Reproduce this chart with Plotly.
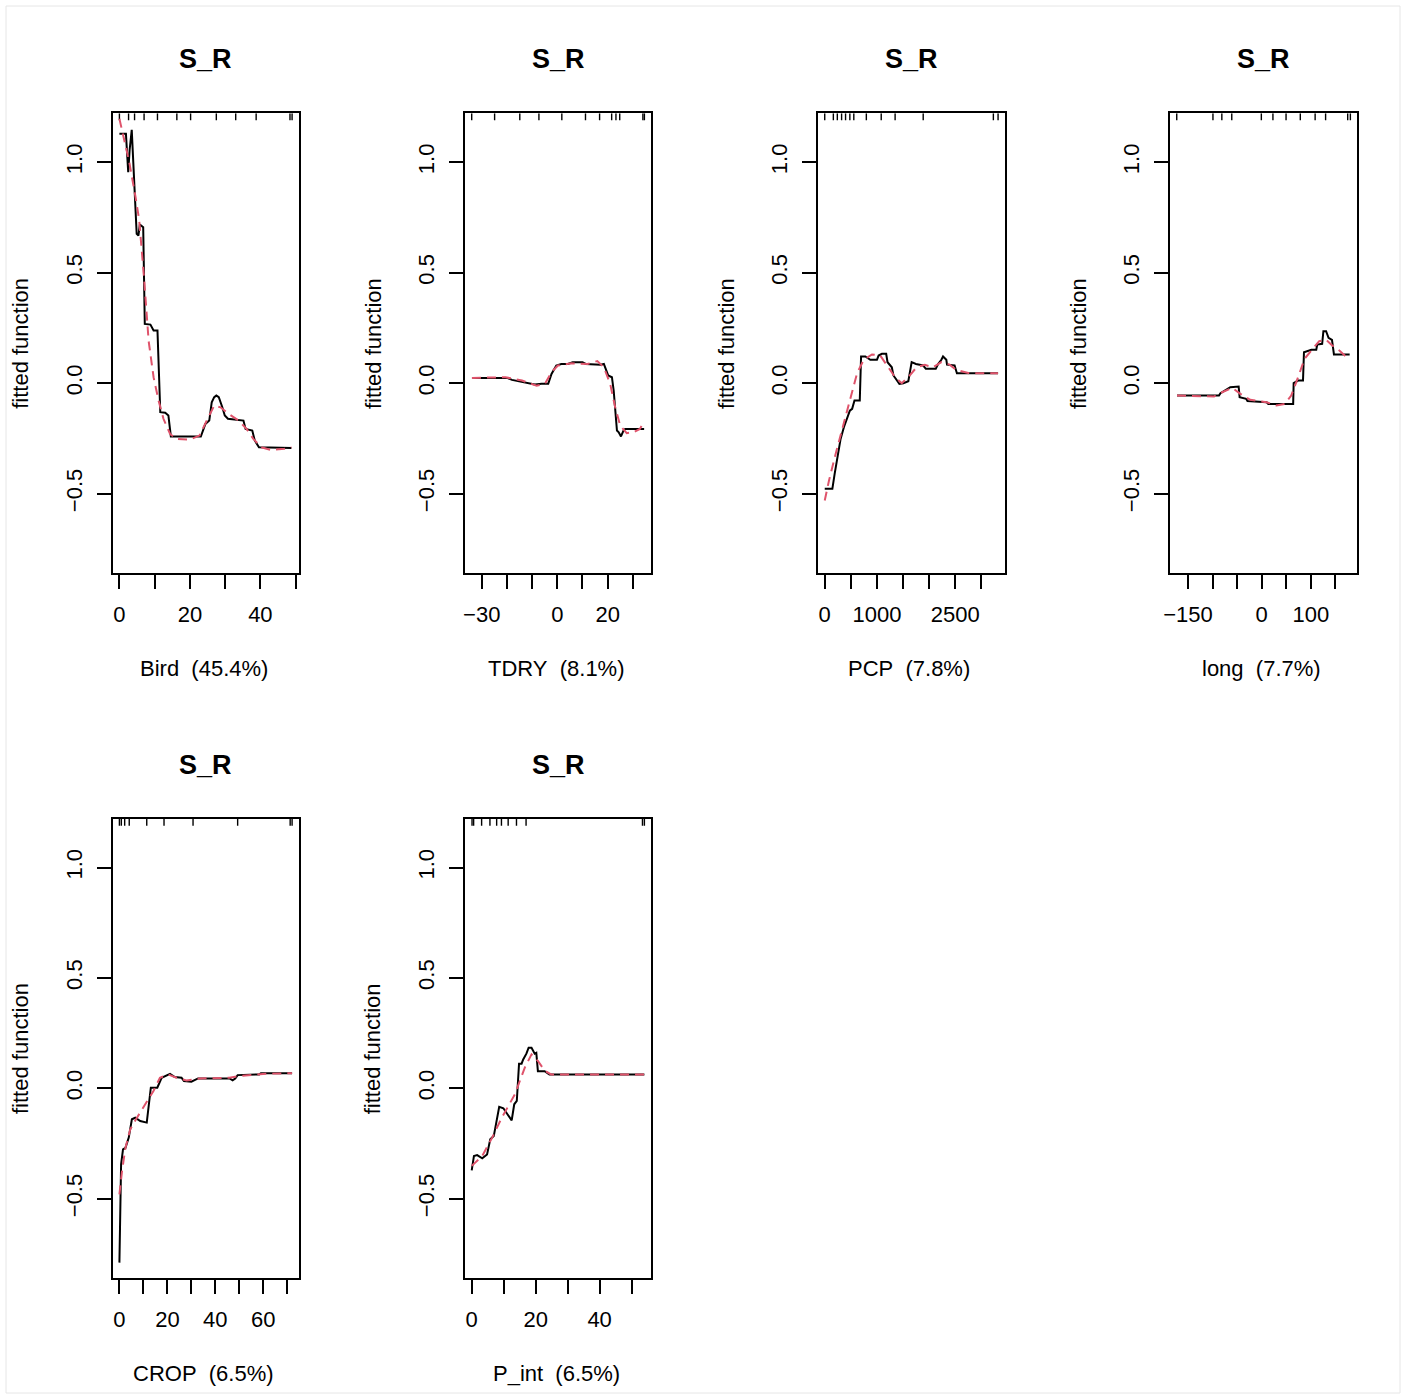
import plotly.graph_objects as go

W, H = 1404, 1397

# ---------------- data ----------------
bird_x = [0, 1.85, 2.5, 2.9, 3.5, 4.9, 5.4, 5.8, 6.75, 7.2, 8.8, 9.7, 10.8, 11.6, 13.0, 13.9, 14.6, 23.1, 24.4,
          25.5, 26.2, 26.9, 27.5, 28.2, 29.2, 29.9, 30.8, 35.2, 35.8, 37.7, 38.4, 39.6, 48.8]
bird_y = [1.128, 1.128, 0.955, 1.055, 1.146, 0.676, 0.668, 0.718, 0.706, 0.268, 0.265, 0.238, 0.238, -0.131,
          -0.134, -0.146, -0.241, -0.241, -0.184, -0.169, -0.086, -0.063, -0.056, -0.063, -0.109, -0.146,
          -0.161, -0.169, -0.207, -0.214, -0.259, -0.290, -0.293]
bird_fx = [0, 2.8, 4.6, 5.6, 6.9, 8.3, 9.7, 11.1, 12.5, 14.4, 16.2, 19.9, 22.7, 25.0, 26.9, 28.7, 31.0, 33.8,
           36.1, 38.0, 40.3, 43.0, 46.8, 48.8]
bird_fy = [1.196, 1.0, 0.84, 0.74, 0.495, 0.19, 0.027, -0.078, -0.161, -0.23, -0.252, -0.256, -0.237, -0.161,
           -0.101, -0.109, -0.139, -0.169, -0.207, -0.252, -0.29, -0.302, -0.297, -0.29]
bird_rug = [0, 2.6, 4.3, 7.0, 10.8, 16.3, 20.2, 27.5, 33.0, 38.8, 48.4, 49.0]

tdry_x = [-33.9, -19.9, -18.0, -14.0, -8.9, -6.25, -3.6, -2.3, -0.4, 1.6, 4.2, 6.1, 10.0, 11.3, 17.2, 18.5, 19.5,
          20.2, 21.7, 22.4, 23.7, 24.4, 25.3, 26.3, 27.0, 34.5]
tdry_y = [0.024, 0.024, 0.015, 0.0045, -0.006, -0.003, -0.003, 0.042, 0.080, 0.087, 0.087, 0.095, 0.095, 0.087,
          0.084, 0.087, 0.057, 0.035, 0.027, -0.033, -0.214, -0.222, -0.241, -0.214, -0.207, -0.207]
tdry_fx = [-33.9, -20.6, -14.0, -8.2, -4.9, -2.3, 0.26, 5.5, 12.0, 15.9, 18.5, 21.0, 23.0, 25.0, 27.6, 30.2,
           32.8, 34.4]
tdry_fy = [0.024, 0.027, 0.012, -0.011, -0.003, 0.05, 0.08, 0.09, 0.087, 0.1, 0.072, -0.003, -0.109, -0.192,
           -0.226, -0.222, -0.207, -0.176]
tdry_rug = [-34.0, -24.9, -14.9, -7.3, 1.8, 11.2, 16.8, 21.6, 23.3, 24.8, 34.0, 34.6]

pcp_x = [0, 146, 190, 240, 304, 367, 430, 481, 525, 570, 671, 696, 778, 873, 1000, 1032, 1095, 1177, 1203, 1285,
         1316, 1430, 1506, 1601, 1665, 1747, 1886, 1937, 2127, 2171, 2234, 2266, 2329, 2342, 2487, 2532, 3320]
pcp_y = [-0.478, -0.478, -0.41, -0.335, -0.252, -0.199, -0.154, -0.124, -0.116, -0.078, -0.078, 0.121, 0.121,
         0.106, 0.106, 0.125, 0.133, 0.133, 0.095, 0.072, 0.035, -0.003, 0.0, 0.009, 0.095, 0.087, 0.08, 0.065,
         0.065, 0.087, 0.106, 0.121, 0.106, 0.084, 0.08, 0.045, 0.045]
pcp_fx = [0, 82, 209, 335, 494, 620, 747, 905, 1063, 1222, 1348, 1475, 1601, 1759, 1918, 2076, 2234, 2392, 2519,
          2772, 3320]
pcp_fy = [-0.531, -0.44, -0.32, -0.207, -0.071, 0.045, 0.106, 0.13, 0.125, 0.072, 0.027, 0.0, 0.027, 0.072,
          0.083, 0.072, 0.095, 0.084, 0.06, 0.045, 0.045]
pcp_rug = [0, 165, 241, 323, 399, 481, 557, 797, 1082, 1348, 1886, 3230, 3320]

long_x = [-172.5, -87, -84, -74, -64, -47, -45, -31.5, -29, 10, 13.4, 64, 65, 74, 84, 86, 101, 111, 113, 123,
          125.5, 131, 136, 143, 147, 179]
long_y = [-0.056, -0.056, -0.045, -0.03, -0.018, -0.015, -0.063, -0.071, -0.081, -0.086, -0.094, -0.094, 0.0,
          0.012, 0.012, 0.14, 0.151, 0.151, 0.175, 0.178, 0.235, 0.235, 0.205, 0.196, 0.13, 0.13]
long_fx = [-172.5, -97, -80.5, -60, -43.6, -23.5, 10, 30, 47, 60, 74, 87, 101, 117, 131, 144, 158, 179]
long_fy = [-0.056, -0.06, -0.041, -0.021, -0.048, -0.075, -0.086, -0.101, -0.094, -0.056, 0.027, 0.11, 0.148,
           0.19, 0.196, 0.17, 0.148, 0.105]
long_rug = [-173, -99.3, -81.2, -61, -0.8, 22.8, 49.5, 78.5, 108.7, 130, 175, 180.4]

crop_x = [0, 0.7, 1.5, 2.5, 3.9, 5.2, 6.6, 8.7, 11.4, 13.1, 15.8, 17.6, 21.1, 23.1, 25.9, 26.9, 30.0, 32.8, 45.9,
          47.2, 48.3, 49.3, 58.3, 59.0, 72.0]
crop_y = [-0.789, -0.344, -0.276, -0.27, -0.223, -0.14, -0.133, -0.148, -0.155, 0.003, 0.003, 0.048, 0.066,
          0.051, 0.048, 0.033, 0.03, 0.045, 0.045, 0.036, 0.045, 0.06, 0.063, 0.069, 0.069]
crop_fx = [0, 1.1, 2.5, 4.5, 7.3, 10.7, 14.2, 16.9, 20.4, 23.8, 28.0, 33.5, 45.9, 50.0, 61.0, 72.0]
crop_fy = [-0.48, -0.374, -0.27, -0.186, -0.133, -0.072, -0.012, 0.048, 0.063, 0.048, 0.036, 0.045, 0.048,
           0.056, 0.066, 0.069]
crop_rug = [0, 0.8, 2.2, 4.1, 11.4, 18.6, 30.7, 49.3, 71.2, 72.0]

pint_x = [0, 0.7, 1.7, 3.3, 4.8, 5.8, 6.9, 7.9, 8.6, 9.9, 11.5, 12.5, 13.3, 14.1, 14.8, 15.6, 16.1, 17.1, 17.8,
          18.7, 19.7, 20.2, 20.7, 22.8, 24.3, 54.0]
pint_y = [-0.371, -0.306, -0.302, -0.317, -0.299, -0.231, -0.216, -0.14, -0.084, -0.09, -0.125, -0.145, -0.072,
          -0.057, 0.112, 0.112, 0.131, 0.157, 0.184, 0.184, 0.157, 0.161, 0.078, 0.078, 0.063, 0.063]
pint_fx = [0, 3.3, 6.4, 9.4, 13.5, 16.6, 18.7, 20.7, 22.8, 24.8, 54.0]
pint_fy = [-0.351, -0.306, -0.223, -0.133, -0.027, 0.094, 0.154, 0.124, 0.081, 0.063, 0.063]
pint_rug = [0.1, 0.6, 3.1, 5.7, 7.8, 9.3, 11.4, 14.0, 17.0, 53.4, 54.0]

titles = ["S_R"] * 6
xlabels = ["Bird\u00a0\u00a0(45.4%)", "TDRY\u00a0\u00a0(8.1%)", "PCP\u00a0\u00a0(7.8%)",
           "long\u00a0\u00a0(7.7%)", "CROP\u00a0\u00a0(6.5%)", "P_int\u00a0\u00a0(6.5%)"]
ylabel = "fitted function"

x_tickvals = [[0, 10, 20, 30, 40, 50], [-30, -20, -10, 0, 10, 20, 30], [0, 500, 1000, 1500, 2000, 2500, 3000],
              [-150, -100, -50, 0, 50, 100, 150], [0, 10, 20, 30, 40, 50, 60, 70], [0, 10, 20, 30, 40, 50]]
x_ticktext = [["0", "", "20", "", "40", ""], ["\u221230", "", "", "0", "", "20", ""],
              ["0", "", "1000", "", "", "2500", ""], ["\u2212150", "", "", "0", "", "100", ""],
              ["0", "", "20", "", "40", "", "60", ""], ["0", "", "20", "", "40", ""]]
y_tickvals = [-0.5, 0.0, 0.5, 1.0]
y_ticktext = ["\u22120.5", "0.0", "0.5", "1.0"]
y_range = [-0.86, 1.221]

series = [(bird_x, bird_y, bird_fx, bird_fy, bird_rug), (tdry_x, tdry_y, tdry_fx, tdry_fy, tdry_rug),
          (pcp_x, pcp_y, pcp_fx, pcp_fy, pcp_rug), (long_x, long_y, long_fx, long_fy, long_rug),
          (crop_x, crop_y, crop_fx, crop_fy, crop_rug), (pint_x, pint_y, pint_fx, pint_fy, pint_rug)]

# ---------------- layout (pixel boxes) ----------------
boxes = [(112.5, 113.3, 299, 573.3), (464.8, 113.3, 651.3, 573.3), (817.8, 113.3, 1005, 573.3),
         (1169.8, 113.3, 1357.3, 573.3), (112.5, 818.7, 299, 1278.3), (464.8, 818.7, 651.3, 1278.3)]

FONT = "Liberation Sans, Arial, Helvetica, sans-serif"
fig = go.Figure()
layout = dict(width=W, height=H, margin=dict(l=0, r=0, t=0, b=0), paper_bgcolor="white",
              plot_bgcolor="white", showlegend=False, font=dict(family=FONT, size=22, color="black"))
annotations = []

def px(x):
    # compensate for the slight horizontal offset observed in the rendered page
    return ((x - 6) * W / (W - 6)) / W

def py(y):
    return 1 - y / H

for i, ((xs, ys, fxs, fys, rug), box) in enumerate(zip(series, boxes)):
    k = "" if i == 0 else str(i + 1)
    xa, ya = "x" + k, "y" + k
    l, t, r, b = box
    lo = min(min(xs), min(fxs), min(rug))
    hi = max(max(xs), max(fxs), max(rug))
    pad = 0.04 * (hi - lo)
    xr = [lo - pad, hi + pad]
    axis_common = dict(showline=True, mirror=True, linecolor="black", linewidth=1.6, ticks="outside",
                       ticklen=14, tickwidth=1.6, tickcolor="black", showgrid=False, zeroline=False,
                       tickfont=dict(size=22, family=FONT, color="black"), fixedrange=True)
    layout["xaxis" + k] = dict(domain=[px(l), px(r)], range=xr, anchor=ya, tickmode="array",
                               tickvals=x_tickvals[i], ticktext=x_ticktext[i], ticklabelstandoff=6,
                               **axis_common)
    layout["yaxis" + k] = dict(domain=[py(b), py(t)], range=y_range, anchor=xa, tickmode="array",
                               tickvals=y_tickvals, ticktext=y_ticktext, tickangle=-90, ticklabelstandoff=6,
                               **axis_common)
    # rug
    rx, ry = [], []
    for v in rug:
        rx += [v, v, None]
        ry += [y_range[1], y_range[1] - 0.032, None]
    fig.add_trace(go.Scatter(x=rx, y=ry, mode="lines", line=dict(color="black", width=1.4),
                             xaxis=xa, yaxis=ya, hoverinfo="skip"))
    fig.add_trace(go.Scatter(x=xs, y=ys, mode="lines", line=dict(color="black", width=2),
                             xaxis=xa, yaxis=ya))
    fig.add_trace(go.Scatter(x=fxs, y=fys, mode="lines", line=dict(color="#DF536B", width=2, dash="9px,6px"),
                             xaxis=xa, yaxis=ya))
    cx = (l + r) / 2
    cy = (t + b) / 2
    annotations.append(dict(text="<b>%s</b>" % titles[i], x=px(cx), y=py(t - 54), xref="paper", yref="paper",
                            showarrow=False, font=dict(size=27, family=FONT), xanchor="center", yanchor="middle"))
    annotations.append(dict(text=xlabels[i], x=px(cx - 2), y=py(b + 95), xref="paper", yref="paper",
                            showarrow=False, font=dict(size=22, family=FONT), xanchor="center", yanchor="middle"))
    annotations.append(dict(text=ylabel, x=px(l - 92), y=py(cy), xref="paper", yref="paper", textangle=-90,
                            showarrow=False, font=dict(size=22, family=FONT), xanchor="center", yanchor="middle"))

layout["annotations"] = annotations
layout["shapes"] = [dict(type="rect", xref="paper", yref="paper", x0=px(6), x1=px(1400), y0=py(1393), y1=py(6),
                         line=dict(color="#e6e6e6", width=1))]
fig.update_layout(**layout)
fig.write_html("out.html", config={"displayModeBar": False},
               post_script="document.body.style.margin='0';document.documentElement.style.overflow='hidden';"
                           "document.body.style.overflow='hidden';")
